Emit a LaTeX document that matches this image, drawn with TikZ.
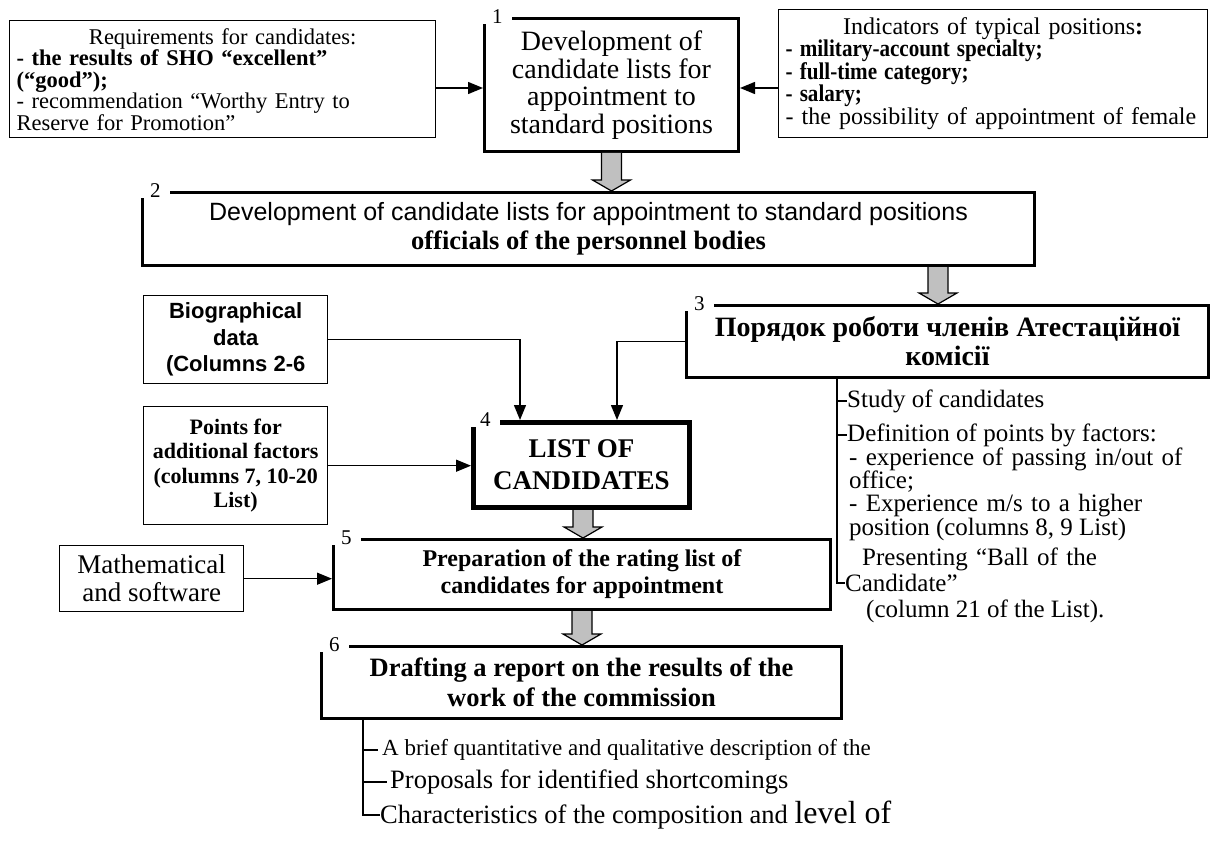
\documentclass[tikz,border=0pt]{standalone}
\usepackage{fontspec}
\setmainfont{Liberation Serif}
\setsansfont{Liberation Sans}
\usetikzlibrary{arrows.meta,calc}
\definecolor{blockgray}{HTML}{C0C0C0}
\newcommand\fsz[2]{\fontsize{#1}{#2}\selectfont}
\newcommand\spread[1]{\makebox[\linewidth][s]{#1}}
\newcommand\lft[1]{\makebox[\linewidth][l]{#1}}
\newcommand\narrow[1]{\scalebox{0.88}[1]{#1}}
% wide grey block arrow from the bottom of one box to the top of the next
\newcommand\blockarrow[2]{%
  \path (#1) coordinate (ba-s);
  \path (ba-s |- #2) coordinate (ba-t);
  \draw[line width=1.2pt,fill=blockgray,line join=miter]
    ($(ba-s)+(-10,0)$) -- ($(ba-t)+(-10,-11)$) -- ($(ba-t)+(-19,-11)$) -- (ba-t)
    -- ($(ba-t)+(19,-11)$) -- ($(ba-t)+(10,-11)$) -- ($(ba-s)+(10,0)$);}
\begin{document}
\begin{tikzpicture}[x=1pt,y=-1pt,
  thinbox/.style={draw,line width=1.4pt,anchor=north west,inner sep=0pt},
  heavybox/.style={draw,line width=3pt,anchor=north west,inner sep=0pt},
  heaviestbox/.style={draw,line width=5pt,anchor=north west,inner sep=0pt},
  numtag/.style={fill=white,inner xsep=9pt,inner ysep=0pt,anchor=west,font=\fsz{21}{21}},
  link/.style={line width=1.4pt,-{Triangle[length=15pt,width=12pt]}},
  branch/.style={line width=1.3pt},
  item/.style={anchor=west,inner sep=0pt,font=\fsz{25}{25}},
]
\fill[white] (0,0) rectangle (1213,845);
\useasboundingbox (0,0) rectangle (1213,845);

% ---- top row
\node[thinbox,minimum width=426pt,minimum height=117pt,text width=412pt,align=center,
      font=\fsz{22.5}{21.5}] (req) at (9,20)
  {Requirements for candidates:\\
   \spread{\bfseries - the results of SHO “excellent”}\\
   \lft{\bfseries (“good”);}\\
   \spread{- recommendation “Worthy Entry to}\\
   \lft{Reserve for Promotion”}};

\node[heavybox,minimum width=254pt,minimum height=133pt,align=center,
      font=\fsz{28}{27.5}] (dev) at (483,17)
  {Development of\\candidate lists for\\appointment to\\standard positions};
\node[numtag] (n1) at (dev.north west) {1};

\node[thinbox,minimum width=429pt,minimum height=128pt,text width=415pt,align=center,
      font=\fsz{24}{22}] (ind) at (778,9)
  {\makebox[\linewidth][c]{Indicators of typical positions\textbf{:}}\\
   \lft{\bfseries\narrow{- military-account specialty;}}\\
   \lft{\bfseries\narrow{- full-time category;}}\\
   \lft{\bfseries\narrow{- salary;}}\\
   \lft{- the possibility of appointment of female}};

\coordinate (toprow) at (0,88);
\draw[link] (req.east |- toprow) -- (dev.west |- toprow);
\draw[link] (ind.west |- toprow) -- (dev.east |- toprow);

% ---- personnel bodies
\node[heavybox,minimum width=892pt,minimum height=73pt,align=center,
      font=\fsz{26.5}{29}] (pers) at (141,191)
  {{\sffamily\fsz{25}{29}Development of candidate lists for appointment to standard positions}\\
   \textbf{officials of the personnel bodies}};
\node[numtag] (n2) at (pers.north west) {2};
\blockarrow{dev.south}{pers.north}

% ---- commission
\node[heavybox,minimum width=522pt,minimum height=72pt,align=center,
      font=\bfseries\fsz{28}{29}] (com) at (685,304)
  {Порядок роботи членів Атестаційної\\комісії};
\node[numtag] (n3) at (com.north west) {3};
\coordinate (pc) at ($(pers.south west)+(797,0)$);
\blockarrow{pc}{com.north}

% ---- inputs to the list
\node[thinbox,minimum width=184pt,minimum height=88pt,align=center,
      font=\sffamily\bfseries\fsz{22}{26.5}] (bio) at (143,295)
  {Biographical\\data\\(Columns 2-6};
\node[thinbox,minimum width=184pt,minimum height=118pt,align=center,
      font=\bfseries\fsz{22}{24.5}] (pts) at (143,406)
  {Points for\\additional factors\\(columns 7, 10-20\\List)};

\node[heaviestbox,minimum width=216pt,minimum height=85pt,align=center,
      font=\bfseries\fsz{27}{32}] (lst) at (471,420)
  {LIST OF\\CANDIDATES};
\node[numtag] (n4) at (lst.north west) {4};

\draw[link] (bio.east) -| ($(lst.north west)+(49,0)$);
\draw[link] (com.west) -| ($(lst.north west)+(146,0)$);
\draw[link] (pts.east) -- (pts.east -| lst.west);

% ---- rating list
\node[heavybox,minimum width=497pt,minimum height=70pt,align=center,
      font=\bfseries\fsz{24}{27}] (rat) at (332,538)
  {Preparation of the rating list of\\candidates for appointment};
\node[numtag] (n5) at (rat.north west) {5};
\node[thinbox,minimum width=184pt,minimum height=66pt,align=center,
      font=\fsz{27}{28}] (mth) at (59,545)
  {Mathematical\\and software};
\draw[link] (mth.east) -- (mth.east -| rat.west);
\coordinate (lc) at ($(lst.south west)+(112,0)$);
\blockarrow{lc}{rat.north}

% ---- report
\node[heavybox,minimum width=520pt,minimum height=72pt,align=center,
      font=\bfseries\fsz{26.5}{30}] (rep) at (320,645)
  {Drafting a report on the results of the\\work of the commission};
\node[numtag] (n6) at (rep.north west) {6};
\coordinate (rc) at ($(rat.south west)+(250,0)$);
\blockarrow{rc}{rep.north}

% ---- commission work steps
\coordinate (rt) at ($(com.south west)+(152,0)$);
\node[item] (study) at (847,401) {Study of candidates};
\node[item] (defn) at (847,435) {Definition of points by factors:};
\node[item,text width=352pt,align=left] (r1) at (849,459) {\spread{- experience of passing in/out of}};
\node[item] (r2) at (849,482) {office;};
\node[item,text width=352pt,align=left] (r3) at (849,506) {\spread{- Experience m/s to a higher}};
\node[item] (r4) at (849,529) {position (columns 8, 9 List)};
\node[item,text width=282pt,align=left] (r5) at (862,559) {\spread{Presenting “Ball of the}};
\node[item] (cand) at (845,583) {Candidate”};
\node[item] (r6) at (866,611) {(column 21 of the List).};
\draw[branch] (rt) |- (study.west);
\draw[branch] (rt) |- (defn.west);
\draw[branch] (rt) |- (cand.west);

% ---- report contents
\coordinate (bt) at ($(rep.south west)+(43,0)$);
\node[item,font=\fsz{23}{23}] (brief) at (382,750) {A brief quantitative and qualitative description of the};
\node[item,font=\fsz{26.5}{26.5}] (prop) at (390,782) {Proposals for identified shortcomings};
\node[item,font=\fsz{26.5}{26.5}] (chars) at (380,815) {Characteristics of the composition and {\fsz{32}{32}level of}};
\draw[branch] (bt) |- ($(brief.west)+(-4,0)$);
\draw[branch] (bt) |- ($(prop.west)+(-3,0)$);
\draw[branch] (bt) |- (chars.west);
\end{tikzpicture}
\end{document}
